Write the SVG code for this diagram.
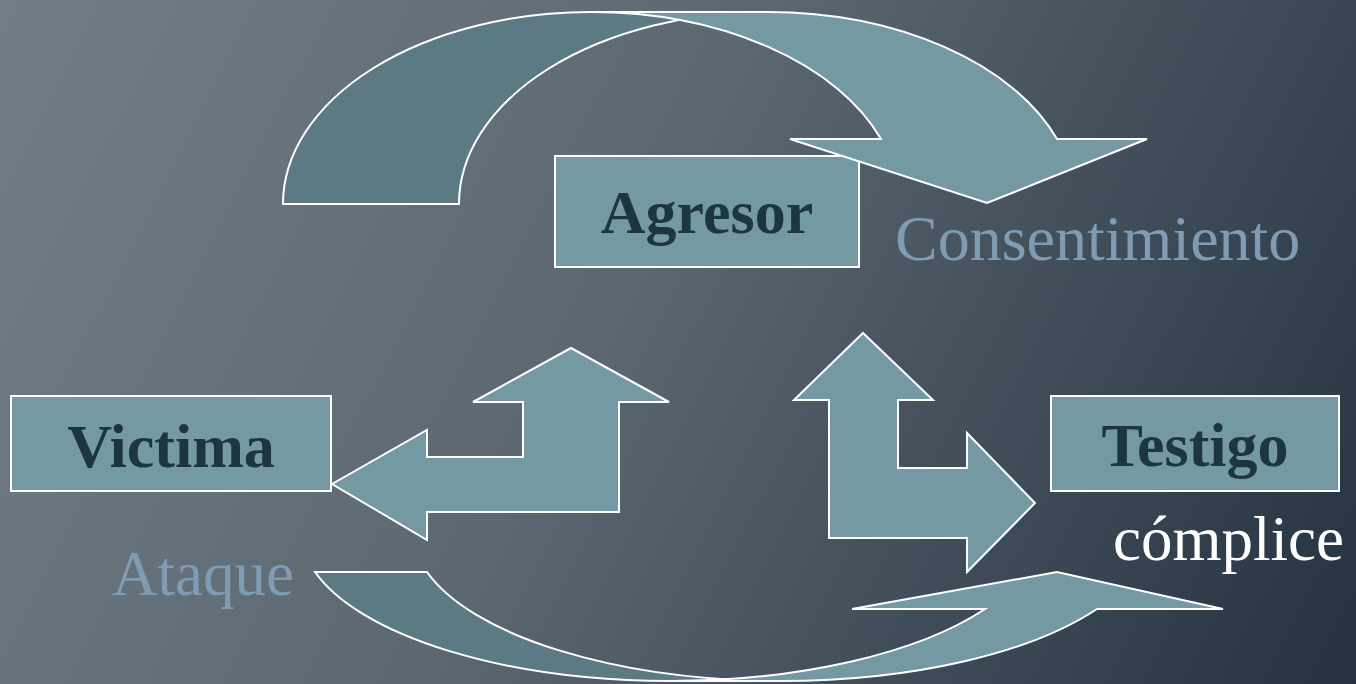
<svg xmlns="http://www.w3.org/2000/svg" width="1356" height="684" viewBox="0 0 1356 684">
  <defs>
    <linearGradient id="bg" x1="0" y1="0" x2="1356" y2="684" gradientUnits="userSpaceOnUse">
      <stop offset="0" stop-color="#717e88"/>
      <stop offset="0.45" stop-color="#5b6771"/>
      <stop offset="1" stop-color="#243241"/>
    </linearGradient>
  </defs>
  <style>
    .box { fill: #7499a3; stroke: #ffffff; stroke-width: 2; }
    .boxtext { font-family: "Liberation Serif", "Times New Roman", serif; font-weight: bold; font-size: 62px; fill: #1d3441; text-anchor: middle; }
    .front { fill: #7499a3; stroke: #ffffff; stroke-width: 2; stroke-linejoin: miter; }
    .back { fill: #5c7a83; stroke: #ffffff; stroke-width: 2; }
    .label { font-family: "Liberation Serif", "Times New Roman", serif; font-size: 64px; fill: #7f9cb4; }
    .labelw { font-family: "Liberation Serif", "Times New Roman", serif; font-size: 63px; fill: #ffffff; }
  </style>
  <rect x="0" y="0" width="1356" height="684" fill="url(#bg)"/>

  <g id="node-agresor">
    <rect class="box" x="555" y="156" width="304" height="111"/>
    <text class="boxtext" x="707" y="233">Agresor</text>
  </g>
  <g id="node-victima">
    <rect class="box" x="11" y="396" width="320" height="95"/>
    <text class="boxtext" x="171" y="467">Victima</text>
  </g>
  <g id="node-testigo">
    <rect class="box" x="1051" y="396" width="288" height="95"/>
    <text class="boxtext" x="1195" y="466">Testigo</text>
  </g>

  <g id="connectors">
    <!-- top curved arrow (Consentimiento) -->
    <path class="back" d="M283,204 A308,192 0 0 1 591,12 L767,12 A308,192 0 0 0 459,204 Z"/>
    <path class="front" d="M591,12 L767,12 A308,192 0 0 1 1057,139 L1147,139 L987,203 L790,139 L881,139 A308,192 0 0 0 591,12 Z"/>
    <!-- agresor to victima bent arrow -->
    <polygon class="front" points="332,484 427,430 427,457 523,457 523,402 473,402 571,348 669,402 619,402 619,512 427,512 427,540"/>
    <!-- agresor to testigo bent arrow -->
    <polygon class="front" points="863,333 933,400 898,400 898,468 967,468 967,433 1035,503 967,572 967,538 829,538 829,400 794,400"/>
    <!-- bottom curved arrow (Ataque) -->
    <path class="back" d="M315,572 A370,151 0 0 0 670,681 L782,681 A370,151 0 0 1 427,572 Z"/>
    <path class="front" d="M670,681 L782,681 A370,151 0 0 0 1097,609 L1223,609 L1057,572 L852,609 L985,609 A370,151 0 0 1 670,681 Z"/>
    <text class="label" x="895" y="260">Consentimiento</text>
    <text class="label" x="112" y="595" style="font-size:63px">Ataque</text>
    <text class="labelw" x="1113" y="560">cómplice</text>
  </g>
</svg>
